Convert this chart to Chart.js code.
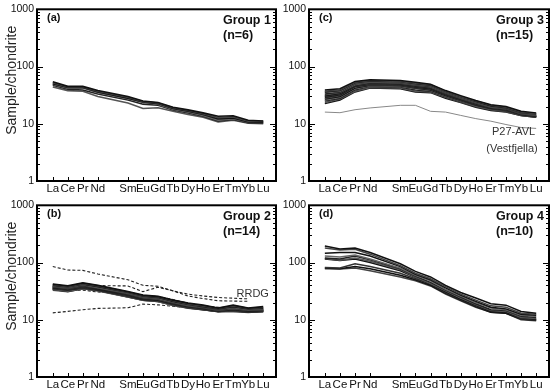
<!DOCTYPE html>
<html>
<head>
<meta charset="utf-8">
<script src="https://cdn.jsdelivr.net/npm/chart.js@4.4.1/dist/chart.umd.min.js"></script>
<style>
  html, body { margin: 0; padding: 0; background: #fff; }
  #wrap { position: relative; width: 550px; height: 391px; overflow: hidden; }
  canvas { position: absolute; }
</style>
</head>
<body>
<div id="wrap">
  <canvas id="pa" width="277" height="196" style="left:0;top:0"></canvas>
  <canvas id="pb" width="277" height="195" style="left:0;top:196px"></canvas>
  <canvas id="pc" width="273" height="196" style="left:277px;top:0"></canvas>
  <canvas id="pd" width="273" height="195" style="left:277px;top:196px"></canvas>
</div>
<script>
// REE order, Pm slot (index 4) is left empty on the x axis
const REE = ["La", "Ce", "Pr", "Nd", "Sm", "Eu", "Gd", "Tb", "Dy", "Ho", "Er", "Tm", "Yb", "Lu"];
const REE_POS = [0, 1, 2, 3, 5, 6, 7, 8, 9, 10, 11, 12, 13, 14];
const Y_TICKS = [1, 10, 100, 1000];

// chondrite-normalised values, La..Lu
const group1 = [
  [54, 45, 45, 38, 30, 25, 23.5, 19.5, 17.5, 15.5, 13.5, 13.8, 11.5, 11.2],
  [52, 44, 44, 37, 29, 24.5, 23, 19, 17, 15, 12.8, 13.2, 11.1, 11],
  [50, 43, 43, 36, 28, 24, 22.5, 18.5, 16.5, 14.5, 12.2, 12.6, 10.8, 10.7],
  [49, 42, 42, 35, 27.5, 23.5, 22, 18, 16, 14, 11.6, 12.2, 10.6, 10.5],
  [47, 40, 39, 33, 26, 22, 21, 17.5, 15.5, 13.6, 11.2, 11.9, 10.4, 10.2],
  [44, 38, 37, 30, 23, 18.5, 19, 16.5, 14.5, 13, 10.8, 11.5, 10.2, 10]
];

const group2 = [
  [42, 39, 44, 40, 31, 27, 25.5, 22, 19.5, 18, 16, 18, 16, 17],
  [41, 38, 43, 39, 30.5, 26.5, 25, 21.5, 19, 17.5, 15.8, 17.5, 15.8, 16.5],
  [40, 37.5, 42, 38, 30, 26, 24.5, 21, 18.5, 17, 15.5, 17, 15.5, 16],
  [39, 37, 41, 37, 29.5, 25.5, 24, 20.5, 18.2, 16.8, 15.3, 16.5, 15.2, 15.6],
  [38.5, 36, 40, 36.5, 29, 25, 23.5, 20.2, 18, 16.5, 15, 16, 15, 15.3],
  [38, 35.5, 39.5, 36, 28.5, 24.5, 23, 20, 17.7, 16.3, 14.8, 15.7, 14.8, 15],
  [37, 35, 39, 35, 28, 24, 22.5, 19.5, 17.4, 16, 14.6, 15.4, 14.6, 14.8],
  [36.5, 34.5, 38, 34.5, 27.5, 23.5, 22.5, 19.2, 17.2, 15.8, 14.5, 15.2, 14.4, 14.6],
  [36, 34, 37.5, 34, 27, 23, 22, 19, 17, 15.6, 14.3, 15, 14.2, 14.4],
  [35.5, 33.5, 37, 33.5, 26.5, 23, 21.5, 18.8, 16.7, 15.4, 14.2, 14.8, 14, 14.2],
  [35, 33, 36, 33, 26, 22.5, 21.5, 18.5, 16.5, 15.2, 14, 14.6, 13.8, 14.1],
  [34.5, 32, 35.5, 32.5, 25.5, 22, 21, 18.2, 16.3, 15, 14, 14.4, 13.7, 14],
  [34, 31.5, 35, 32.5, 25, 22, 21, 18, 16.1, 15, 13.9, 14.2, 13.6, 14],
  [33, 31, 35, 32, 25, 22, 21, 18, 16, 15, 14, 14, 13.5, 14]
];

// RRDG reference field (dashed), La..Yb
const rrdg = [
  [85, 74, 73, 63, 50, 40, 38.5, 32, 28, 26, 24.5, 23.8, 23.2, null],
  [38, 37, 40, 39.5, 39, 31, 37, 32, 26, 23.5, 21.5, 21.2, 21, null],
  [34, 32.5, 33, 30.5, 28.5, 26, 25.5, 22.5, 19.5, 17.5, 16.5, 15.8, 15.5, null],
  [13.2, 14, 15, 15.8, 16.2, 18.8, 18.2, 17.2, 16.2, 15.4, 14.8, 14.3, 14, null]
];

const group3 = [
  [39, 41, 55, 59, 57, 53, 49, 38, 31, 25.5, 21.5, 20, 16.5, 15.5],
  [37, 39, 53, 57, 55, 51, 48, 37, 30, 25, 21, 19.5, 16, 15],
  [36, 38, 52, 56, 54, 50, 47, 36.5, 29.5, 24.5, 20.5, 19, 15.8, 14.8],
  [35, 37, 51, 55, 53, 49, 46, 36, 29, 24, 20, 18.8, 15.5, 14.5],
  [33, 36, 50, 54, 52, 48, 45, 35, 28.5, 23.5, 19.8, 18.5, 15.3, 14.3],
  [32, 35, 48, 53, 51, 47, 44, 34.5, 28, 23, 19.5, 18.2, 15, 14],
  [31, 34, 47, 52, 50, 46, 43, 34, 27.5, 22.5, 19.2, 18, 14.8, 13.8],
  [30, 33, 46, 50, 49, 45, 42, 33, 27, 22, 19, 17.7, 14.7, 13.7],
  [29, 32, 45, 49, 48, 44, 41, 32.5, 26.5, 21.5, 18.7, 17.5, 14.5, 13.5],
  [28, 31, 44, 48, 47, 43, 40, 32, 26, 21.2, 18.5, 17.3, 14.4, 13.4],
  [27, 30, 42, 47, 46, 42, 39, 31, 25.5, 21, 18.2, 17, 14.3, 13.3],
  [26, 29, 41, 46, 45, 41, 38, 30.5, 25, 20.5, 18, 16.8, 14.2, 13.2],
  [25, 28, 39, 45, 44, 39, 37, 30, 24.5, 20.2, 17.8, 16.5, 14.1, 13.1],
  [23.5, 27, 37, 43, 42, 37, 36, 29, 24, 20, 17.5, 16.2, 14, 13],
  [22.5, 26, 36, 42, 41, 36, 35, 28, 23.5, 19.5, 17, 16, 14, 13]
];
const p27avl = [16, 15.6, 17.6, 18.9, 21, 21, 16.5, 16, 14, 12.3, 11.1, 9.7, 8.6, 8.3];

const group4 = [
  [195, 172, 180, 150, 95, 70, 56, 40, 30, 24, 19, 18, 14, 13],
  [180, 165, 170, 140, 88, 65, 52, 38, 28, 22, 17.5, 16.5, 13, 12.5],
  [145, 150, 150, 130, 85, 62, 50, 36, 27, 21, 16.5, 15.5, 12.5, 12],
  [130, 125, 135, 115, 80, 60, 48, 34, 26, 20, 16, 15, 12, 11.5],
  [120, 115, 130, 112, 78, 58, 45, 33, 25, 19, 15, 14.5, 11.5, 11],
  [118, 110, 120, 105, 75, 56, 43, 32, 24, 18.5, 14.5, 14, 11, 10.5],
  [115, 108, 115, 100, 72, 55, 42, 31, 23, 18, 14, 13.5, 10.8, 10.2],
  [82, 80, 95, 85, 65, 52, 42, 30, 22.5, 17.5, 14, 13.5, 10.5, 10],
  [80, 78, 85, 78, 60, 50, 40, 29, 22, 17, 13.5, 13, 10.3, 9.8],
  [78, 77, 80, 72, 56, 48, 39, 28, 21.5, 16.5, 13.5, 13, 10, 9.6]
];

const LINE_COLORS = ["#111", "#444", "#111", "#666", "#222", "#555", "#111", "#333"];
const FONT = "'Liberation Sans', Arial, sans-serif";

function pts(vals) {
  return vals.map((v, i) => ({ x: REE_POS[i], y: v })).filter(p => p.y != null);
}

function lines(rows, width) {
  return rows.map((r, i) => ({
    data: pts(r),
    borderColor: LINE_COLORS[i % LINE_COLORS.length],
    borderWidth: width,
    pointRadius: 0,
    tension: 0
  }));
}

const framePlugin = {
  id: "frame",
  afterDraw(chart, args, o) {
    const { ctx, chartArea: a } = chart;
    const x = chart.scales.x, y = chart.scales.y;
    ctx.save();
    ctx.strokeStyle = "#000";
    ctx.lineWidth = 1;
    ctx.beginPath();
    for (let d = 1; d < 1000; d *= 10) {
      for (let m = 1; m < 10; m++) {
        const py = Math.round(y.getPixelForValue(d * m)) + 0.5;
        const len = m === 1 ? 6 : 3;
        ctx.moveTo(a.left, py); ctx.lineTo(a.left + len, py);
        ctx.moveTo(a.right - len, py); ctx.lineTo(a.right, py);
      }
    }
    REE_POS.forEach(p => {
      const px = Math.round(x.getPixelForValue(p)) + 0.5;
      ctx.moveTo(px, a.bottom); ctx.lineTo(px, a.bottom - 4);
    });
    ctx.stroke();
    ctx.lineWidth = 2;
    ctx.strokeRect(a.left, a.top, a.right - a.left, a.bottom - a.top);

    ctx.fillStyle = "#111";
    ctx.textBaseline = "middle";
    ctx.textAlign = "left";
    ctx.font = "bold 11px " + FONT;
    ctx.fillText(o.letter, a.left + 10, a.top + 9);
    ctx.font = "bold 12.5px " + FONT;
    ctx.fillText(o.group, a.right - 53, a.top + 11);
    ctx.fillText(o.n, a.right - 53, a.top + 26);

    if (o.yTitle) {
      ctx.save();
      ctx.translate(a.left - 25, a.top + 71);
      ctx.rotate(-Math.PI / 2);
      ctx.textAlign = "center";
      ctx.font = "14px " + FONT;
      ctx.fillStyle = "#222";
      ctx.fillText("Sample/chondrite", 0, 0);
      ctx.restore();
    }
    (o.notes || []).forEach(nt => {
      ctx.font = "11px " + FONT;
      ctx.textAlign = "center";
      ctx.fillStyle = "#333";
      ctx.fillText(nt.text, x.getPixelForValue(nt.x), y.getPixelForValue(nt.y));
    });
    ctx.restore();
  }
};

function makeChart(id, datasets, frame, yWidth, xHeight, padTop) {
  return new Chart(document.getElementById(id), {
    type: "line",
    data: { datasets: datasets },
    plugins: [framePlugin],
    options: {
      responsive: false,
      animation: false,
      devicePixelRatio: 1,
      layout: { padding: { top: padTop, right: 1, left: 0, bottom: 0 } },
      plugins: { legend: { display: false }, tooltip: { enabled: false }, frame: frame },
      scales: {
        x: {
          type: "linear",
          min: -1.05,
          max: 14.85,
          grid: { display: false, drawTicks: false },
          border: { display: false },
          afterBuildTicks: s => { s.ticks = REE_POS.map(v => ({ value: v })); },
          afterFit: s => { s.height = xHeight; },
          ticks: {
            autoSkip: false,
            maxRotation: 0,
            padding: 1,
            color: "#111",
            font: { family: FONT, size: 11.5 },
            callback: v => REE[REE_POS.indexOf(v)]
          }
        },
        y: {
          type: "logarithmic",
          min: 1,
          max: 1000,
          grid: { display: false, drawTicks: false },
          border: { display: false },
          afterBuildTicks: s => { s.ticks = Y_TICKS.map(v => ({ value: v })); },
          afterFit: s => { s.width = yWidth; },
          ticks: {
            padding: 3,
            color: "#111",
            font: { family: FONT, size: 10.5 },
            callback: v => String(v)
          }
        }
      }
    }
  });
}

makeChart("pa", lines(group1, 1.6),
  { letter: "(a)", group: "Group 1", n: "(n=6)", yTitle: true }, 37, 15, 6);

const setsB = lines(group2, 1.8).concat(rrdg.map(r => ({
  data: pts(r), borderColor: "#222", borderWidth: 1.1, borderDash: [3, 2], pointRadius: 0, tension: 0
})));
makeChart("pb", setsB,
  { letter: "(b)", group: "Group 2", n: "(n=14)", yTitle: true,
    notes: [{ text: "RRDG", x: 13.3, y: 28.7 }] }, 37, 14, 6);

const setsC = lines(group3, 1.5).concat([{
  data: pts(p27avl), borderColor: "#888", borderWidth: 1, pointRadius: 0, tension: 0
}]);
makeChart("pc", setsC,
  { letter: "(c)", group: "Group 3", n: "(n=15)",
    notes: [{ text: "P27-AVL", x: 12.5, y: 7.3 }, { text: "(Vestfjella)", x: 12.4, y: 3.7 }] }, 32, 15, 6);

makeChart("pd", lines(group4, 1.5),
  { letter: "(d)", group: "Group 4", n: "(n=10)" }, 32, 14, 6);
</script>
</body>
</html>
